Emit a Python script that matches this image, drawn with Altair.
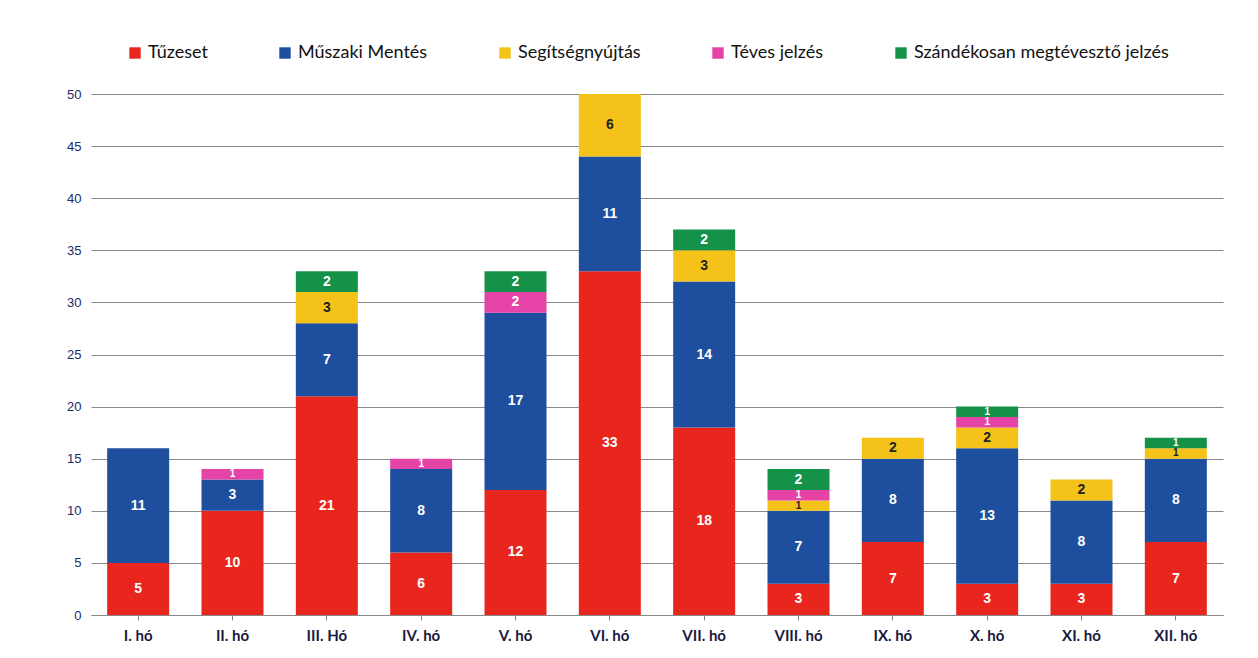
import altair as alt
import pandas as pd

months = ["I. hó", "II. hó", "III. Hó", "IV. hó", "V. hó", "VI. hó",
          "VII. hó", "VIII. hó", "IX. hó", "X. hó", "XI. hó", "XII. hó"]
series = ["Tűzeset", "Műszaki Mentés", "Segítségnyújtás", "Téves jelzés",
          "Szándékosan megtévesztő jelzés"]
tuzeset = [5, 10, 21, 6, 12, 33, 18, 3, 7, 3, 3, 7]
muszaki = [11, 3, 7, 8, 17, 11, 14, 7, 8, 13, 8, 8]
segitseg = [0, 0, 3, 0, 0, 6, 3, 1, 2, 2, 2, 1]
teves = [0, 1, 0, 1, 2, 0, 0, 1, 0, 1, 0, 0]
szandekos = [0, 0, 2, 0, 2, 0, 2, 2, 0, 1, 0, 1]
colors = ["#E8261E", "#1E4F9E", "#F4C219", "#E543A6", "#14924A"]
label_colors = ["white", "white", "#222222", "white", "white"]

rows = []
for si, (name, vals) in enumerate(zip(series, [tuzeset, muszaki, segitseg, teves, szandekos])):
    for m, v in zip(months, vals):
        rows.append({"month": m, "series": name, "value": v, "order": si,
                     "lblcolor": label_colors[si]})
df = pd.DataFrame(rows)

base = alt.Chart(df)

bars = base.mark_bar(size=62).encode(
    x=alt.X("month:N", sort=months, title=None,
            axis=alt.Axis(labelAngle=0, labelFontWeight="bold", labelFontSize=15,
                          labelColor="#1a1a40", labelFont="Lato",
                          tickColor="#888", domainColor="#888", labelPadding=8)),
    y=alt.Y("value:Q", title=None, stack="zero",
            scale=alt.Scale(domain=[0, 50]),
            axis=alt.Axis(values=list(range(0, 51, 5)), labelFontSize=13,
                          labelColor="#1a2a6a", gridColor="#8a8a8a", gridWidth=1.2,
                          domain=False, ticks=False, labelPadding=10)),
    color=alt.Color("series:N", sort=series,
                    scale=alt.Scale(domain=series, range=colors),
                    legend=alt.Legend(orient="none", legendX=35, legendY=-50,
                                      direction="horizontal", title=None,
                                      symbolType="square", symbolSize=130,
                                      labelFontSize=18, labelLimit=0,
                                      labelFont="Lato", labelColor="#111",
                                      columnPadding=68, symbolStrokeWidth=0)),
    order=alt.Order("order:Q", sort="ascending"),
)

labels = base.transform_filter("datum.value > 0").transform_stack(
    stack="value", groupby=["month"], as_=["y0", "y1"],
    sort=[alt.SortField("order", order="ascending")]
).transform_calculate(mid="(datum.y0 + datum.y1) / 2").mark_text(
    fontWeight="bold", font="Liberation Sans"
).encode(
    x=alt.X("month:N", sort=months),
    y=alt.Y("mid:Q"),
    text=alt.Text("value:Q"),
    color=alt.Color("lblcolor:N", scale=None),
    size=alt.condition("datum.value <= 1", alt.value(10), alt.value(14)),
)

chart = alt.layer(bars, labels).properties(
    width=1240, height=640,
    padding={"left": 58, "top": 80, "right": 25, "bottom": 5},
    autosize=alt.AutoSizeParams(type="fit", contains="padding"),
).configure_view(stroke=None).configure_scale(bandPaddingInner=0.33)

chart.save("out.html", embed_options={"renderer": "svg", "actions": False})
